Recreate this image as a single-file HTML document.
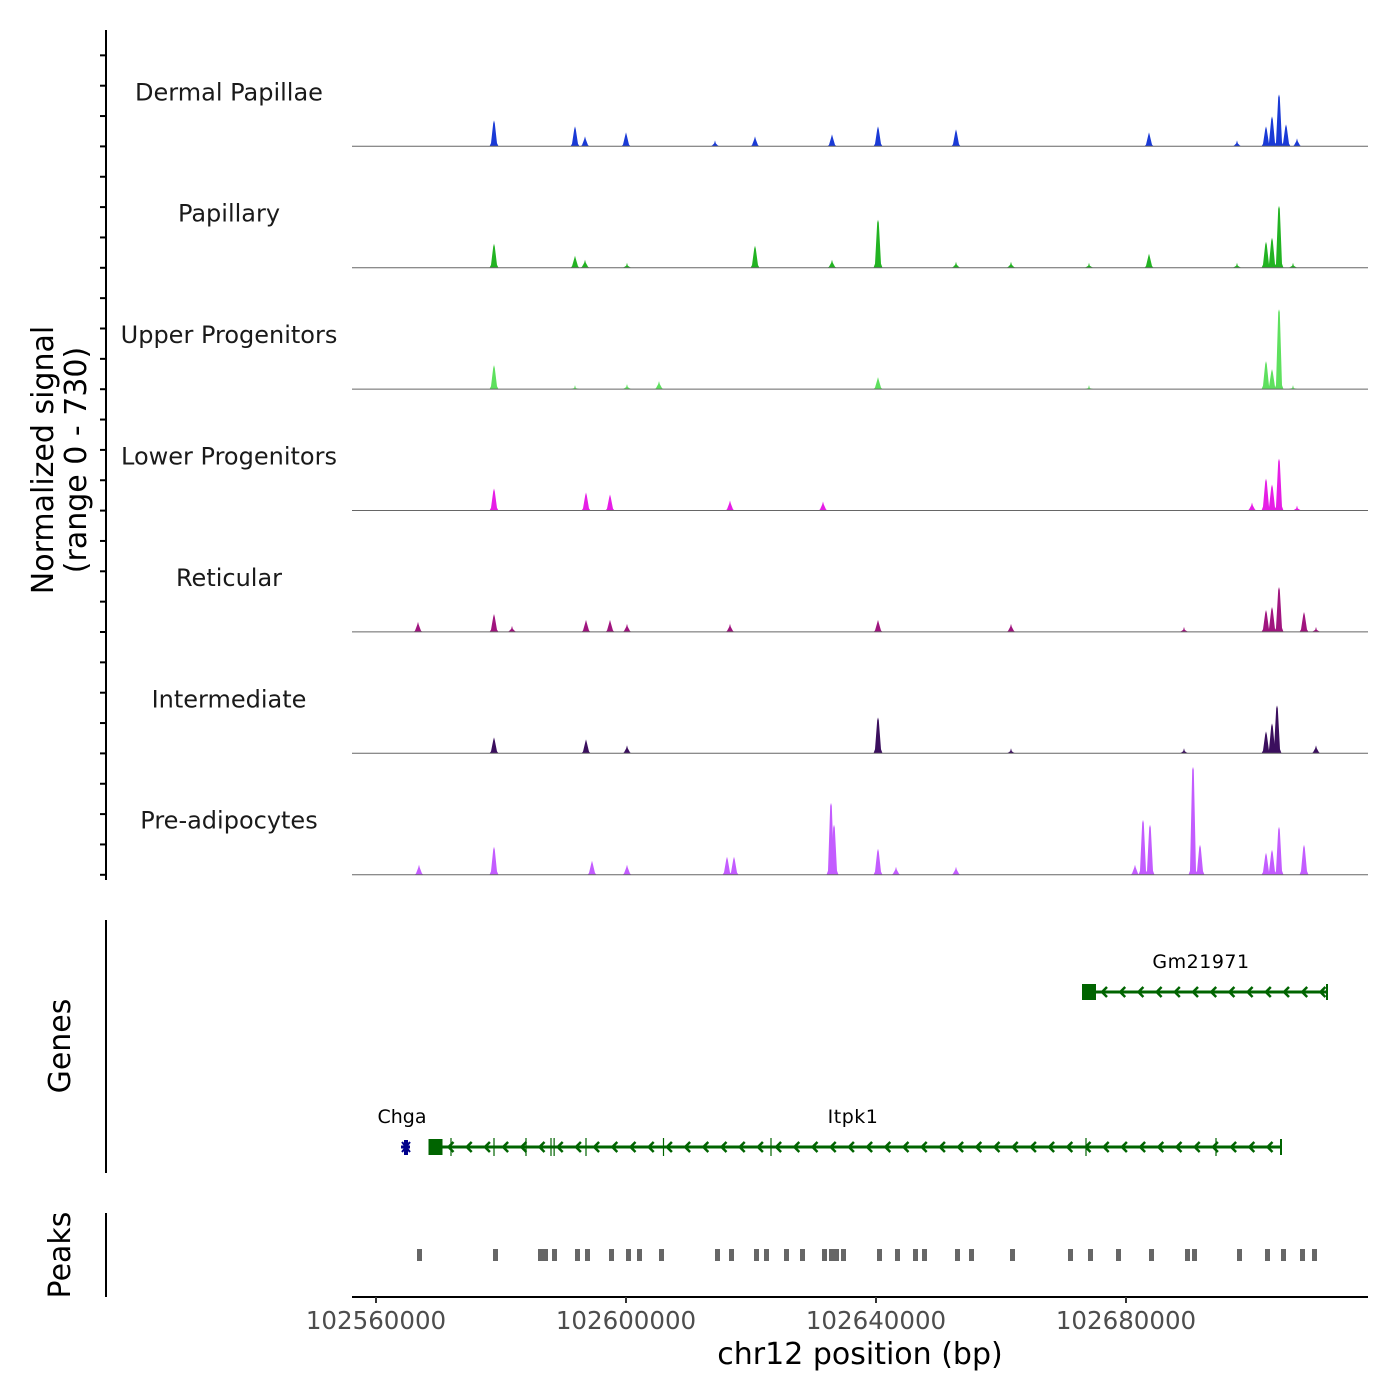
<!DOCTYPE html>
<html><head><meta charset="utf-8"><style>
body{margin:0;background:#fff}
svg{display:block;font-family:"DejaVu Sans","Liberation Sans",sans-serif}
</style></head><body>
<svg id="chart" width="1400" height="1400" viewBox="0 0 1400 1400" xmlns="http://www.w3.org/2000/svg"></svg>
<script>
// genomic axis
const xStart = 102556160, xEnd = 102718720;
const xTicks = [102560000, 102600000, 102640000, 102680000];
const trackNames = ["Dermal Papillae","Papillary","Upper Progenitors","Lower Progenitors","Reticular","Intermediate","Pre-adipocytes"];
const trackColors = ["#1a3ad6","#22b322","#5ee05e","#e61ee6","#a0157f","#3b0f5e","#c35cff"];
const yMax = 730;
// peak positions (bp) and heights (normalized signal) per track
const dpPos = [102578880,102591840,102593440,102600000,102614240,102620640,102632960,102640320,102652800,102683680,102697760,102702400,102703360,102704480,102705600,102707360];
const dpVal = [156,120,60,84,36,60,72,120,102,84,36,120,180,312,132,48];
const paPos = [102578880,102591840,102593440,102600160,102620640,102632960,102640320,102652800,102661600,102674080,102683680,102697760,102702400,102703360,102704480,102706720];
const paVal = [144,72,48,30,132,48,288,36,36,30,84,30,156,180,372,30];
const upPos = [102578880,102591840,102600160,102605280,102640320,102674080,102702400,102703360,102704480,102706720];
const upVal = [144,24,30,48,72,24,168,120,480,24];
const loPos = [102578880,102593600,102597440,102616640,102631520,102700160,102702400,102703360,102704480,102707360];
const loVal = [132,108,96,60,54,48,192,156,312,30];
const rePos = [102566720,102578880,102581760,102593600,102597440,102600160,102616640,102640320,102661600,102689280,102702400,102703360,102704480,102708480,102710400];
const reVal = [60,108,36,72,72,48,48,72,48,30,132,150,270,120,30];
const inPos = [102578880,102593600,102600160,102640320,102661600,102689280,102702400,102703360,102704160,102710400];
const inVal = [96,84,48,216,30,30,132,180,288,48];
const prPos = [102566880,102578880,102594560,102600160,102616160,102617280,102632800,102633280,102640320,102643200,102652800,102681440,102682720,102683840,102690720,102691840,102702400,102703360,102704480,102708480];
const prVal = [60,168,84,60,108,108,432,300,156,48,48,60,330,300,648,180,132,150,288,180];
const trackPos = [dpPos,paPos,upPos,loPos,rePos,inPos,prPos];
const trackVal = [dpVal,paVal,upVal,loVal,reVal,inVal,prVal];
// genes panel
const itpkStart = 102568400, itpkEnd = 102704800;
const itpkExons = [102572000,102578880,102584000,102588000,102588500,102593600,102606000,102623200,102673600,102694400];
const gmStart = 102672960, gmEnd = 102712160;
const chgaPos = 102564800;
// peaks panel
const peakStarts = [102566880,102579040,102586240,102587040,102588480,102592160,102593760,102597600,102600320,102602080,102605600,102614560,102616800,102620800,102622400,102625600,102628160,102631680,102632800,102633600,102634720,102640480,102643360,102646240,102647680,102652960,102655200,102661760,102671040,102674240,102678720,102684000,102689760,102690880,102698080,102702560,102705120,102708160,102710080];

const svg = document.getElementById('chart');
const NS = 'http://www.w3.org/2000/svg';
const px0 = 352, px1 = 1368;
function xs(bp){return px0 + (bp - xStart) / (xEnd - xStart) * (px1 - px0);}
const trackH = 121.4, firstBase = 146.3;
function ys(v, i){return firstBase + i*trackH - v / yMax * trackH;}
function mk(tag, attrs, parent){const e=document.createElementNS(NS,tag);for(const k in attrs)e.setAttribute(k,attrs[k]);(parent||svg).appendChild(e);return e;}

// tracks
for(let i=0;i<trackNames.length;i++){
  const g = mk('g',{});
  
  
  const base = ys(0,i);
  const pos = trackPos[i], val = trackVal[i];
  for(let j=0;j<pos.length;j++){
    const cx = xs(pos[j]), top = ys(val[j],i);
    const sh = Math.min(val[j]/yMax*trackH*0.12,4);
    const p = mk('path',{d:`M${cx-4.5},${base} L${cx-3},${base-sh} L${cx-0.8},${top+3} L${cx},${top} L${cx+0.8},${top+3} L${cx+3},${base-sh} L${cx+4.5},${base} Z`,fill:trackColors[i]},g);
    
    
  }
  const bl = mk('line',{x1:px0,x2:px1,y1:base,y2:base,stroke:'#666','stroke-width':1},g);
  
  
  const t = mk('text',{x:229,y:base-46,'text-anchor':'middle','font-size':24,fill:'#1a1a1a'},g);
  t.textContent = trackNames[i];
  
  
}
// left signal axis
const la = mk('line',{x1:106,x2:106,y1:30,y2:880,stroke:'#000','stroke-width':2});


for(let k=0;k<=28;k++){
  const y = 25 + k*trackH/4;
  if(y<52) continue;
  const tk = mk('line',{x1:100,x2:106,y1:y,y2:y,stroke:'#000','stroke-width':2});
  
  
}
const yt = mk('text',{transform:'translate(53,460) rotate(-90)','text-anchor':'middle','font-size':30,fill:'#000'});


yt.innerHTML = '<tspan x="0" dy="0">Normalized signal</tspan><tspan x="0" dy="33">(range 0 - 730)</tspan>';

// genes panel
const ga = mk('line',{x1:106,x2:106,y1:920,y2:1173,stroke:'#000','stroke-width':2});


const gt = mk('text',{transform:'translate(70,1046) rotate(-90)','text-anchor':'middle','font-size':30,fill:'#000'});
gt.textContent='Genes';


function gene(name, s, e, y, labelX, exons){
  const g = mk('g',{});
  
  
  const a=xs(s), b=xs(e), col='#006400';
  mk('line',{x1:a,x2:b,y1:y,y2:y,stroke:col,'stroke-width':3},g);
  mk('rect',{x:a,y:y-8,width:14,height:16,fill:col},g);
  mk('line',{x1:b,x2:b,y1:y-8,y2:y+8,stroke:col,'stroke-width':2},g);
  for(const ex of exons){const x=xs(ex);mk('line',{x1:x,x2:x,y1:y-9,y2:y+9,stroke:col,'stroke-width':1.2},g);}
  for(let x=a+20;x<b-4;x+=18.2){mk('path',{d:`M${x+5},${y-5} L${x},${y} L${x+5},${y+5}`,stroke:col,'stroke-width':2.5,fill:'none'},g);}
  const t=mk('text',{x:labelX,y:y-24,'text-anchor':'middle','font-size':19,fill:'#000','letter-spacing':'0.5'},g);
  t.textContent=name;
}
gene('Gm21971',gmStart,gmEnd,992,1201,[]);
gene('Itpk1',itpkStart,itpkEnd,1147,853,itpkExons);
const cg = mk('g',{});


const cx = xs(chgaPos);
mk('line',{x1:cx-5,x2:cx+4,y1:1147,y2:1147,stroke:'#00008b','stroke-width':3},cg);
mk('line',{x1:cx,x2:cx,y1:1140,y2:1155,stroke:'#00008b','stroke-width':4},cg);
mk('path',{d:`M${cx-4},${1142} L${cx+4},${1152} M${cx-4},${1152} L${cx+4},${1142}`,stroke:'#00008b','stroke-width':2},cg);
const ct=mk('text',{x:402,y:1123,'text-anchor':'middle','font-size':19,fill:'#000'},cg);
ct.textContent='Chga';

// peaks panel
const pa = mk('line',{x1:106,x2:106,y1:1213,y2:1297,stroke:'#000','stroke-width':2});


const pt = mk('text',{transform:'translate(70,1255) rotate(-90)','text-anchor':'middle','font-size':30,fill:'#000'});
pt.textContent='Peaks';


for(const s of peakStarts){
  const r = mk('rect',{x:xs(s)-2,y:1249,width:5,height:12,fill:'#666'});
  
  
}
// x axis
const xa = mk('line',{x1:px0,x2:px1,y1:1297,y2:1297,stroke:'#000','stroke-width':2});


for(const t of xTicks){
  const x = xs(t);
  const tk = mk('line',{x1:x,x2:x,y1:1297,y2:1303,stroke:'#333','stroke-width':2});
  
  
  const tl = mk('text',{x:x,y:1329,'text-anchor':'middle','font-size':24.5,fill:'#4d4d4d'});
  tl.textContent = String(t);
  
  
}
const xt = mk('text',{x:860,y:1364,'text-anchor':'middle','font-size':30,fill:'#000'});
xt.textContent='chr12 position (bp)';


</script>
</body></html>
